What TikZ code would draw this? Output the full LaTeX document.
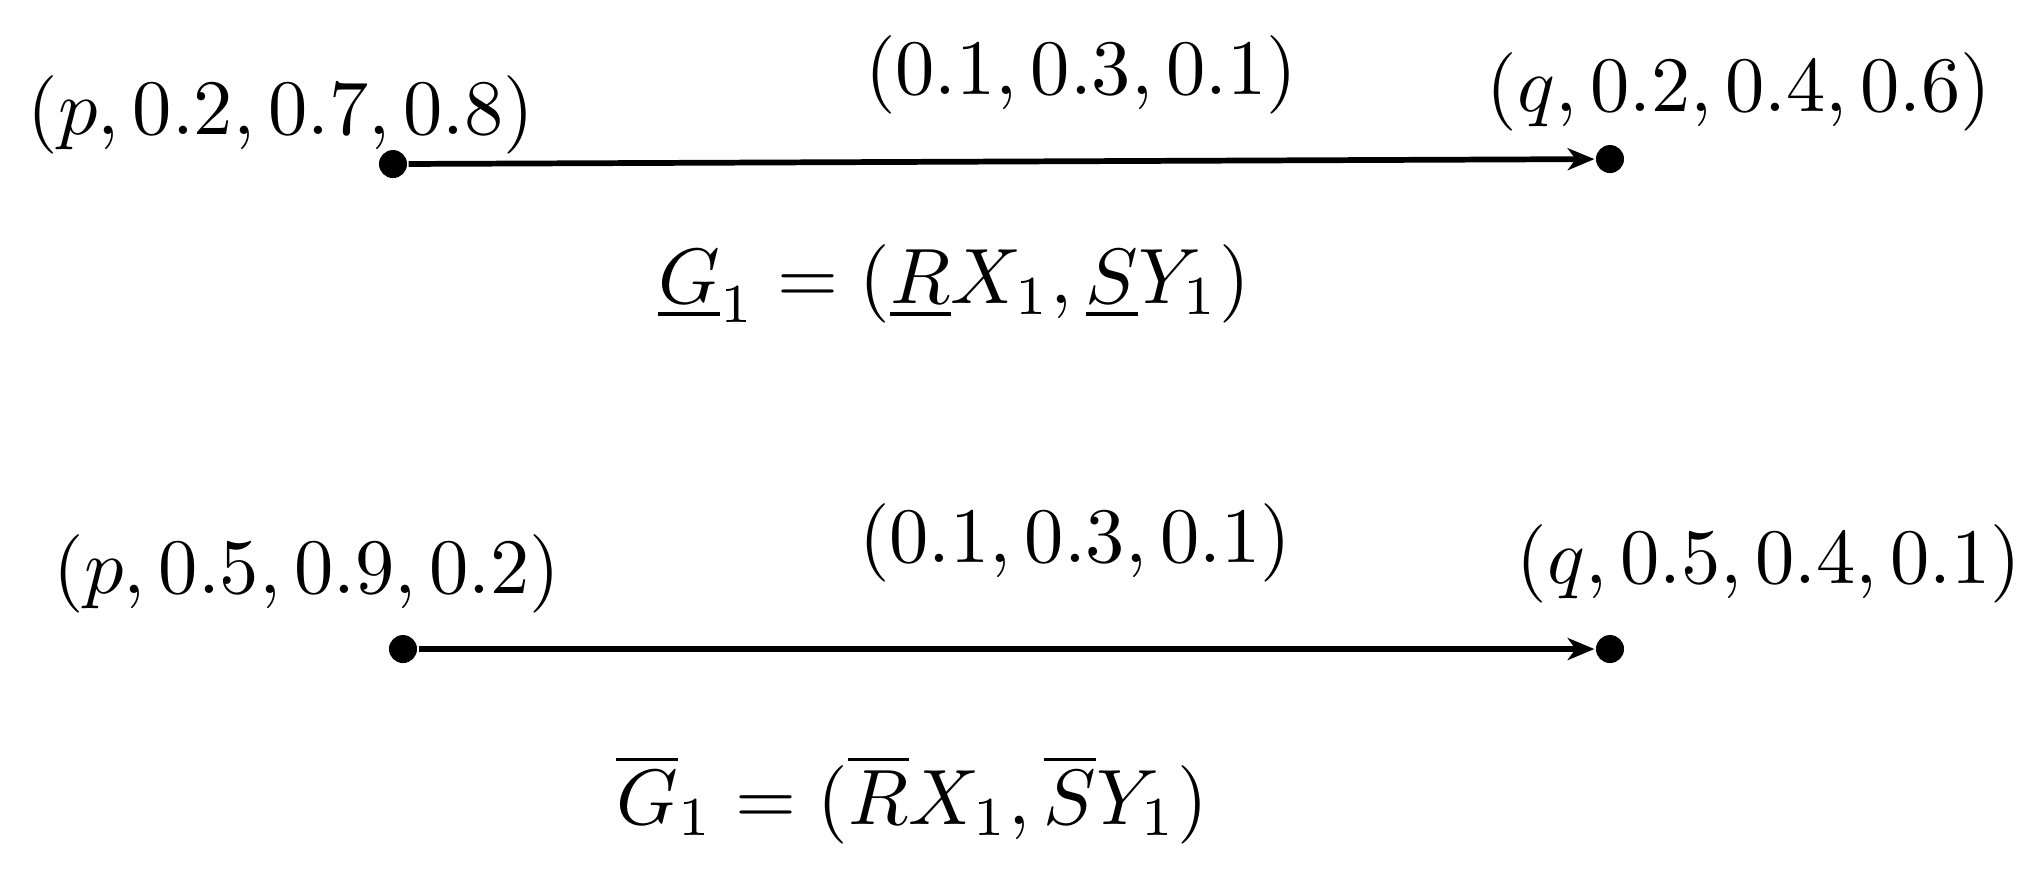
\documentclass[tikz,border=0pt]{standalone}
\usetikzlibrary{arrows.meta}
\begin{document}
\begin{tikzpicture}[x=0.1274pt,y=-0.1274pt,
  dotnode/.style={circle,fill=black,inner sep=0pt,minimum size=3.57pt},
  arr/.style={line width=0.73pt,-{Stealth[length=3.4pt,width=2.8pt,inset=1pt]}},
  lbl/.style={inner sep=0pt,anchor=base}]
\useasboundingbox (0,0) rectangle (2043,878);
% top graph
\node[dotnode] (p1) at (393,164) {};
\node[dotnode] (q1) at (1610,159) {};
\draw[arr] (p1) -- (q1);
\node[lbl] (lp1) at (281,134) {$(p,0.2,0.7,0.8)$};
\node[lbl] (lm1) at (1081,94) {$(0.1,0.3,0.1)$};
\node[lbl] (lq1) at (1739,111) {$(q,0.2,0.4,0.6)$};
\node[lbl] (g1) at (954,303) {$\underline{G}_1=(\underline{R}X_1,\underline{S}Y_1)$};
% bottom graph
\node[dotnode] (p2) at (403,649) {};
\node[dotnode] (q2) at (1610,649) {};
\draw[arr] (p2) -- (q2);
\node[lbl] (lp2) at (307,593) {$(p,0.5,0.9,0.2)$};
\node[lbl] (lm2) at (1075,562) {$(0.1,0.3,0.1)$};
\node[lbl] (lq2) at (1769,583) {$(q,0.5,0.4,0.1)$};
\node[lbl] (g2) at (912,824) {$\overline{G}_1=(\overline{R}X_1,\overline{S}Y_1)$};
\end{tikzpicture}
\end{document}
